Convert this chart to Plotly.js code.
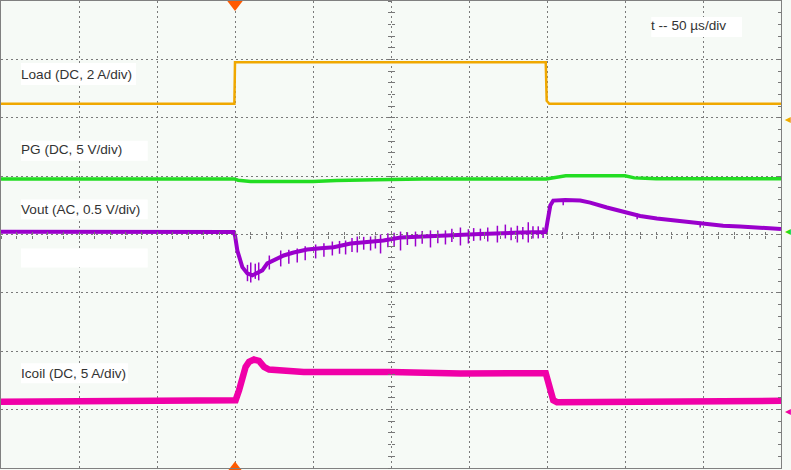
<!DOCTYPE html>
<html><head><meta charset="utf-8">
<script src="https://cdn.plot.ly/plotly-3.0.1.min.js"></script>
<style>html,body{margin:0;padding:0;background:#f6faf6;} #chart{width:791px;height:470px;}</style>
</head><body><div id="chart"></div>
<script>
// Time in microseconds (50 µs/div), amplitudes in screen divisions (centre = 0)
const loadT = [0, 149.6, 150.0, 349.2, 349.8, 351.5, 500];
const loadY = [2.239, 2.239, 2.949, 2.949, 2.29, 2.239, 2.239];

const pgT = [0, 149.5, 152, 160, 200, 215, 240, 270, 349.5, 352, 358, 362, 400, 406, 420, 500];
const pgY = [0.952, 0.952, 0.93, 0.906, 0.906, 0.925, 0.94, 0.952, 0.952, 0.96, 0.99, 1.005, 1.005, 0.97, 0.957, 0.957];

const voutT = [0, 149.2, 150.1, 151.5, 154.7, 157.9, 161.1, 164.3, 167.5, 170.7, 174.8, 181.2, 187.6, 196.3, 204.9, 213.2, 224.1, 234.8, 245.2, 256.1, 281.7, 307.3, 332.9, 349.2, 350.2, 352.1, 354.0, 361.7, 371.3, 377.7, 388.4, 398.8, 409.7, 420.4, 430.9, 441.7, 452.4, 462.9, 473.7, 484.4, 500];
const voutY = [0.046, 0.043, -0.034, -0.274, -0.559, -0.667, -0.701, -0.667, -0.615, -0.496, -0.444, -0.359, -0.308, -0.256, -0.234, -0.217, -0.154, -0.132, -0.103, -0.051, -0.017, 0.009, 0.034, 0.043, 0.205, 0.496, 0.581, 0.590, 0.581, 0.547, 0.462, 0.385, 0.316, 0.274, 0.239, 0.210, 0.171, 0.149, 0.137, 0.115, 0.094];

const voutSpikeT  = [158.0, 160.1, 163.0, 165.2, 172.0, 179.3, 184.5, 189.9, 195.0, 201.7, 207.0, 212.4, 217.0, 220.9, 225.0, 228.4, 232.5, 236.9, 240.0, 243.3, 248.0, 252.0, 256.1, 260.5, 265.7, 270.0, 275.3, 280.0, 284.9, 289.0, 294.5, 299.6, 303.0, 307.3, 312.0, 318.2, 323.3, 327.0, 331.0, 334.5, 338.0, 341.0, 344.4, 347.5, 360.4, 407.8, 448.2];
const voutSpikeHi = [-0.52, -0.479, -0.50, -0.479, -0.36, -0.274, -0.26, -0.239, -0.20, -0.171, -0.15, -0.120, -0.11, -0.103, -0.06, -0.034, -0.04, -0.034, -0.02, 0.0, 0.02, 0.03, 0.05, 0.04, 0.05, 0.06, 0.07, 0.07, 0.07, 0.10, 0.12, 0.09, 0.11, 0.10, 0.12, 0.15, 0.17, 0.12, 0.15, 0.13, 0.21, 0.14, 0.14, 0.12, 0.60, 0.36, 0.22];
const voutSpikeLo = [-0.80, -0.821, -0.76, -0.786, -0.60, -0.547, -0.50, -0.479, -0.44, -0.410, -0.38, -0.359, -0.33, -0.342, -0.30, -0.308, -0.26, -0.274, -0.24, -0.325, -0.22, -0.21, -0.274, -0.18, -0.205, -0.16, -0.222, -0.15, -0.171, -0.13, -0.188, -0.154, -0.11, -0.103, -0.12, -0.137, -0.068, -0.10, -0.137, -0.08, -0.137, -0.07, -0.068, -0.06, 0.50, 0.26, 0.12];

const icoilT = [0, 149.5, 150.4, 152.6, 154.7, 156.8, 159.0, 162.2, 165.4, 168.6, 171.8, 179.3, 194.0, 249.7, 294.5, 349.2, 350.2, 352.1, 354.0, 356.4, 384.1, 448.1, 500];
const icoilY = [-2.867, -2.855, -2.838, -2.667, -2.439, -2.268, -2.183, -2.142, -2.166, -2.268, -2.313, -2.325, -2.354, -2.354, -2.381, -2.376, -2.462, -2.667, -2.838, -2.872, -2.867, -2.855, -2.850];

const triggerT = 150;
const refLevels = [1.983, 0.068, -3.026];
const refColors = ['#f0a800', '#22dd22', '#f000a8'];

const channelLabels = ['Load (DC, 2 A/div)', 'PG (DC, 5 V/div)', 'Vout (AC, 0.5 V/div)', 'Icoil (DC, 5 A/div)'];
const timebaseLabel = 't -- 50 µs/div';

// spike segments
const spX = [], spY = [];
voutSpikeT.forEach((t, i) => { spX.push(t, t, null); spY.push(voutSpikeHi[i], voutSpikeLo[i], null); });

const COL = {load: '#f0a800', pg: '#22dd22', vout: '#9a00cc', icoil: '#f000a8'};
const dummy = (xa, ya) => ({x: [null], y: [null], xaxis: xa, yaxis: ya, mode: 'markers', hoverinfo: 'skip', showlegend: false});
const traces = [
  dummy('x', 'y2'), dummy('x', 'y3'), dummy('x', 'y4'), dummy('x2', 'y'), dummy('x3', 'y'),
  {x: loadT, y: loadY, mode: 'lines', line: {color: COL.load, width: 2.5}, hoverinfo: 'skip'},
  {x: pgT, y: pgY, mode: 'lines', line: {color: COL.pg, width: 3.5}, hoverinfo: 'skip'},
  {x: spX, y: spY, mode: 'lines', line: {color: COL.vout, width: 1.5}, connectgaps: false, hoverinfo: 'skip'},
  {x: voutT, y: voutY, mode: 'lines', line: {color: COL.vout, width: 4}, hoverinfo: 'skip'},
  {x: icoilT, y: icoilY, mode: 'lines', line: {color: COL.icoil, width: 6.5}, hoverinfo: 'skip'},
  {x: [triggerT], y: [4], mode: 'markers', cliponaxis: false, hoverinfo: 'skip',
   marker: {symbol: 'triangle-down', size: 20, color: '#ff5a00'}},
  {x: [triggerT], y: [-4], mode: 'markers', cliponaxis: false, hoverinfo: 'skip',
   marker: {symbol: 'triangle-up', size: 13, color: '#ff5a00'}}
];

const FONT = 'Liberation Sans, Arial, sans-serif';
const GRID = '#7a7a7a';
const tickAx = (extra) => Object.assign({showgrid: false, zeroline: false, showline: false, showticklabels: false,
  tickcolor: '#777777', ticklen: 3, tickwidth: 1, fixedrange: true}, extra);

const labelY = [2.747, 1.453, 0.427, -2.381];
const annotations = channelLabels.map((s, i) => ({text: s, x: 12.2, y: labelY[i], xref: 'x', yref: 'y',
  xanchor: 'left', yanchor: 'middle', showarrow: false, borderpad: 0, font: {family: FONT, size: 13.6, color: '#333'}}));
annotations.push({text: timebaseLabel, x: 416.0, y: 3.573, xref: 'x', yref: 'y', xanchor: 'left', yanchor: 'middle',
  showarrow: false, borderpad: 0, font: {family: FONT, size: 13.6, color: '#333'}});
refLevels.forEach((lv, i) => annotations.push({text: '◂', x: 1.0085, y: lv, xref: 'paper', yref: 'y',
  xanchor: 'center', yanchor: 'middle', showarrow: false, borderpad: 0, font: {family: FONT, size: 12, color: refColors[i]}}));

const box = (x0, x1, y0, y1) => ({type: 'rect', xref: 'x', yref: 'y', x0, x1, y0, y1, fillcolor: '#ffffff', line: {width: 0}, layer: 'between'});
const shapes = [
  box(12.8, 86.5, 2.56, 2.94),
  box(12.8, 94.1, 1.265, 1.607),
  box(12.8, 94.1, 0.26, 0.60),
  box(12.8, 94.1, -0.564, -0.239),
  box(12.8, 81.5, -2.547, -2.205),
  box(416.8, 475.0, 3.385, 3.726)
];

const layout = {
  width: 791, height: 470,
  margin: {l: 1, r: 10, t: 1, b: 2, pad: 0},
  paper_bgcolor: '#f6faf6', plot_bgcolor: '#f6faf6',
  showlegend: false,
  xaxis: {range: [0, 500], tickmode: 'linear', tick0: 0, dtick: 50, showgrid: true, gridcolor: GRID, griddash: '2px,3px', gridwidth: 1,
    zeroline: false, showticklabels: false, ticks: '', showline: true, mirror: true, linecolor: '#808080', linewidth: 1, fixedrange: true},
  yaxis: {range: [-4, 4], tickmode: 'linear', tick0: -4, dtick: 1, showgrid: true, gridcolor: GRID, griddash: '2px,3px', gridwidth: 1,
    zeroline: false, showticklabels: false, ticks: '', showline: true, mirror: true, linecolor: '#808080', linewidth: 1, fixedrange: true},
  yaxis2: tickAx({overlaying: 'y', side: 'right', anchor: 'x', range: [-4, 4], tickmode: 'linear', tick0: -4, dtick: 0.2, ticks: 'inside'}),
  yaxis3: tickAx({overlaying: 'y', anchor: 'free', position: 0.5, side: 'left', range: [-4, 4], tickmode: 'linear', tick0: -4, dtick: 0.2, ticks: 'inside'}),
  yaxis4: tickAx({overlaying: 'y', anchor: 'free', position: 0.5, side: 'left', range: [-4, 4], tickmode: 'linear', tick0: -4, dtick: 0.2, ticks: 'outside'}),
  xaxis2: tickAx({overlaying: 'x', anchor: 'free', position: 0.5, side: 'bottom', range: [0, 500], tickmode: 'linear', tick0: 0, dtick: 10, ticks: 'inside'}),
  xaxis3: tickAx({overlaying: 'x', anchor: 'free', position: 0.5, side: 'bottom', range: [0, 500], tickmode: 'linear', tick0: 0, dtick: 10, ticks: 'outside'}),
  annotations, shapes
};

Plotly.newPlot('chart', traces, layout, {displayModeBar: false, staticPlot: true});
</script>
</body></html>
